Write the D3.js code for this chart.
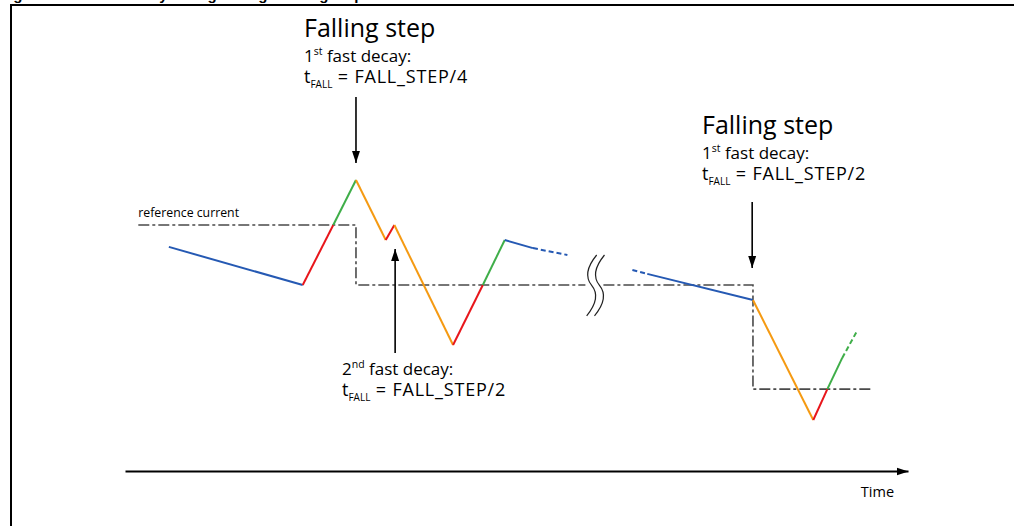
<!DOCTYPE html>
<html>
<head>
<meta charset="utf-8">
<script src="https://cdn.jsdelivr.net/npm/d3@7/dist/d3.min.js"></script>
<style>
  html, body { margin: 0; padding: 0; background: #fff; }
  svg { display: block; font-family: "Open Sans", "Noto Sans", sans-serif; }
</style>
</head>
<body>
<div class="chart"></div>
<script>
var width = 1014;
var height = 526;

// phase colours
var phaseColor = {
	slow: "#2559b3",
	on: "#e8161b",
	rise: "#3fae49",
	fast: "#f59a12"
};

// first waveform (before the time break)
var wave1T = [5.6, 22.7, 26.6, 29.5, 33.3, 34.4, 41.9, 45.7, 48.5, 52.1, 56.5];
var wave1I = [74.7, 62, 82, 97, 77, 82, 42, 62, 77, 74.3, 72];
var wave1Phase = ["slow", "on", "rise", "fast", "on", "fast", "on", "rise", "slow", "slow"];
var wave1Dash = [0, 0, 0, 0, 0, 0, 0, 0, 0, 1];

// second waveform (after the time break)
var wave2T = [64.8, 66.7, 80.2, 87.9, 89.7, 91.6, 93.5];
var wave2I = [67, 65.7, 57, 17, 27.3, 37.7, 46.7];
var wave2Phase = ["slow", "slow", "fast", "on", "rise", "rise"];
var wave2Dash = [1, 0, 0, 0, 0, 1];

// reference current (dash-dot)
var ref1T = [1.7, 29.5, 29.5, 58.8];
var ref1I = [82, 82, 62, 62];
var ref2T = [61.1, 80.2, 80.2, 95.5];
var ref2I = [62, 62, 27.3, 27.3];

// time break position
var breakT = [59.6, 60.6];
var breakI = [72, 51.7];

// annotation arrows: time, start level, tip level
var arrowT = [29.5, 34.5, 80.1];
var arrowFrom = [124.7, 39.3, 89.7];
var arrowTo = [102.7, 74, 67.7];

var svg = d3.select('.chart').append('svg')
	.attr('width', width)
	.attr('height', height);

var x = d3.scaleLinear().domain([0, 100]).range([125, 908]);
var y = d3.scaleLinear().domain([0, 100]).range([471, 171]);

// arrow head
var defs = svg.append('defs');
defs.append('marker')
	.attr('id', 'head')
	.attr('markerUnits', 'userSpaceOnUse')
	.attr('viewBox', '0 0 12 10')
	.attr('refX', 12).attr('refY', 5)
	.attr('markerWidth', 12).attr('markerHeight', 10)
	.attr('orient', 'auto')
	.append('path').attr('d', 'M0,1L12,5L0,9Z').attr('fill', '#000');

// frame and clipped caption (only descenders show, as in the page it was cut from)
svg.append('text')
	.attr('x', 0).attr('y', 0)
	.attr('font-family', 'Liberation Sans, Arial, sans-serif')
	.attr('font-weight', 'bold').attr('font-size', 15)
	.text('Figure 9. Current decay timing during a falling step in the reference current');
svg.append('path')
	.attr('d', 'M11,' + height + 'V5H' + width)
	.attr('fill', 'none').attr('stroke', '#000').attr('stroke-width', 2);

// time axis
var axis = svg.append('g')
	.attr('transform', 'translate(0,' + y(0) + ')')
	.call(d3.axisBottom(x).ticks(0).tickSizeOuter(0));
axis.select('.domain')
	.attr('stroke', '#000').attr('stroke-width', 2)
	.attr('marker-end', 'url(#head)');
axis.append('text')
	.attr('x', x(96.1)).attr('y', 26)
	.attr('fill', '#000').attr('font-size', 14.5).attr('text-anchor', 'middle')
	.attr('font-family', 'Open Sans, sans-serif')
	.text('Time');

// reference current
var refLine = d3.line().x(d => x(d[0])).y(d => y(d[1]));
[[ref1T, ref1I], [ref2T, ref2I]].forEach(function(r) {
	svg.append('path')
		.datum(d3.zip(r[0], r[1]))
		.attr('d', refLine)
		.attr('fill', 'none')
		.attr('stroke', '#4a4a4a')
		.attr('stroke-width', 1.6)
		.attr('stroke-dasharray', '11,3,3,3');
});
svg.append('text')
	.attr('x', x(ref1T[0])).attr('y', y(ref1I[0]) - 8)
	.attr('font-size', 12.3)
	.text('reference current');

// waveform segments
function segments(ts, is, phases, dashes) {
	return phases.map(function(p, k) {
		return { x1: ts[k], y1: is[k], x2: ts[k + 1], y2: is[k + 1], phase: p, dash: dashes[k] };
	});
}
var segs = segments(wave1T, wave1I, wave1Phase, wave1Dash)
	.concat(segments(wave2T, wave2I, wave2Phase, wave2Dash));

svg.selectAll('line.wave').data(segs).enter().append('line')
	.attr('class', 'wave')
	.attr('x1', d => x(d.x1)).attr('y1', d => y(d.y1))
	.attr('x2', d => x(d.x2)).attr('y2', d => y(d.y2))
	.attr('stroke', d => phaseColor[d.phase])
	.attr('stroke-width', 2)
	.attr('stroke-dasharray', d => d.dash ? '5,3' : null);

// time break squiggles
breakT.forEach(function(bt) {
	var cx = x(bt), top = y(breakI[0]), bot = y(breakI[1]);
	var h = bot - top;
	var p = d3.path();
	p.moveTo(cx + 5, top);
	p.bezierCurveTo(cx - 6, top + h * 0.22, cx - 6, top + h * 0.38, cx, top + h * 0.5);
	p.bezierCurveTo(cx + 6, top + h * 0.62, cx + 6, top + h * 0.78, cx - 5, bot);
	svg.append('path')
		.attr('d', p.toString())
		.attr('fill', 'none').attr('stroke', '#222').attr('stroke-width', 1.2);
});

// arrows
svg.selectAll('line.arrow').data(arrowT).enter().append('line')
	.attr('class', 'arrow')
	.attr('x1', d => x(d)).attr('x2', d => x(d))
	.attr('y1', (d, i) => y(arrowFrom[i]))
	.attr('y2', (d, i) => y(arrowTo[i]))
	.attr('stroke', '#000').attr('stroke-width', 1.6)
	.attr('marker-end', 'url(#head)');

// labels: one text element per block, lines as tspans
function label(px, py, title, ord, sup, div) {
	var t = svg.append('text').attr('x', px).attr('y', py).attr('font-size', 17);
	var dy = 0;
	if (title) {
		t.append('tspan').attr('x', px).attr('font-size', 25).text(title);
		dy = 25;
	}
	t.append('tspan').attr('x', px).attr('dy', dy).text(ord);
	t.append('tspan').attr('font-size', 10.5).attr('dy', -7).text(sup);
	t.append('tspan').attr('dy', 7).text(' fast decay:');
	t.append('tspan').attr('x', px).attr('dy', 21).attr('font-size', 18).text('t');
	t.append('tspan').attr('font-size', 10).attr('dy', 5).text('FALL');
	t.append('tspan').attr('dy', -5).attr('font-size', 18).attr('letter-spacing', 0.8)
		.text(' = FALL_STEP/' + div);
}
label(304, 37, 'Falling step', '1', 'st', 4);
label(342, 375, null, '2', 'nd', 2);
label(702, 134, 'Falling step', '1', 'st', 2);
</script>
</body>
</html>
